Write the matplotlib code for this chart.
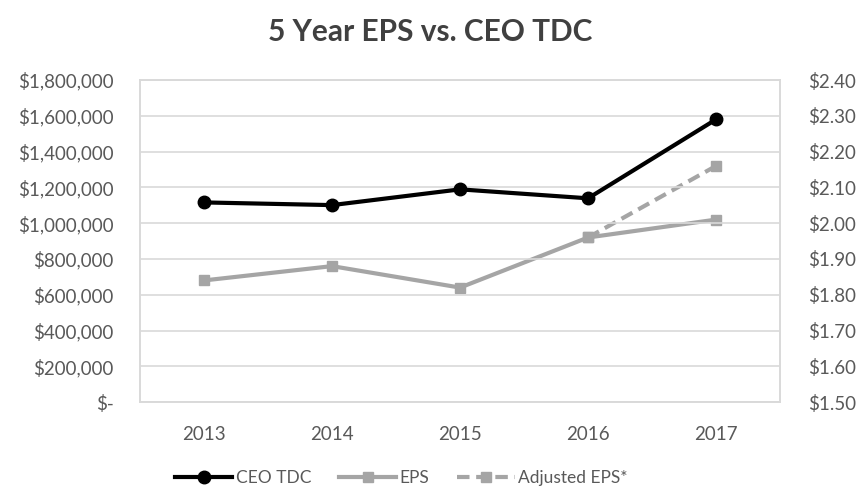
import matplotlib.pyplot as plt
from matplotlib.ticker import FuncFormatter, MultipleLocator

plt.rcParams['font.family'] = ['Lato', 'DejaVu Sans']

# data
years = ["2013", "2014", "2015", "2016", "2017"]
ceo_tdc = [1116000, 1101000, 1189000, 1139000, 1580000]
eps = [1.84, 1.88, 1.82, 1.96, 2.01]
adj_years = ["2016", "2017"]
adj_eps = [1.96, 2.16]

black = "#000000"
gray = "#a5a5a5"
text_gray = "#595959"
grid_gray = "#d9d9d9"

fig = plt.figure(figsize=(8.61, 4.88), dpi=100)
ax = fig.add_axes([0.1626, 0.176, 0.7434, 0.66])
ax2 = ax.twinx()

x = list(range(len(years)))
adj_x = [years.index(y) for y in adj_years]

l1, = ax.plot(x, ceo_tdc, color=black, lw=3, marker="o", markersize=9, label="CEO TDC", zorder=5)
l2, = ax2.plot(x, eps, color=gray, lw=3, marker="s", markersize=7.5, label="EPS")
l3, = ax2.plot(adj_x, adj_eps, color=gray, lw=3, ls=(0, (3, 1.6)), marker="s", markersize=7.5,
               label="Adjusted EPS*")

ax.set_zorder(ax2.get_zorder() + 1)
ax.patch.set_visible(False)

ax.set_xlim(-0.5, 4.5)
ax.set_ylim(0, 1800000)
ax2.set_ylim(1.5, 2.4)
ax.yaxis.set_major_locator(MultipleLocator(200000))
ax2.yaxis.set_major_locator(MultipleLocator(0.1))
ax.set_xticks(x)
ax.set_xticklabels(years)

def money(v, pos):
    if abs(v) < 1:
        return "$-"
    return "${:,.0f}".format(v)

ax.yaxis.set_major_formatter(FuncFormatter(money))
ax2.yaxis.set_major_formatter(FuncFormatter(lambda v, p: "${:.2f}".format(v)))

ax2.grid(False)
ax.grid(axis="y", color=grid_gray, lw=1.2)
ax.set_axisbelow(True)
for a in (ax, ax2):
    for s in a.spines.values():
        s.set_color(grid_gray)
        s.set_linewidth(1.2)
    a.tick_params(length=0, labelsize=13.5, colors=text_gray, pad=19)
ax.tick_params(axis="x", pad=17)
ax2.tick_params(axis="y", pad=20)

fig.text(0.5, 0.934, "5 Year EPS vs. CEO TDC", ha="center", va="center",
         fontsize=21.5, fontweight="bold", color="#404040")

fig.legend(handles=[l1, l2, l3], loc="center", bbox_to_anchor=(0.466, 0.02), ncol=3,
           frameon=False, fontsize=12.5, labelcolor=text_gray, handlelength=3.3,
           handletextpad=0.2, columnspacing=1.6)

fig.savefig("out.png", dpi=100)
